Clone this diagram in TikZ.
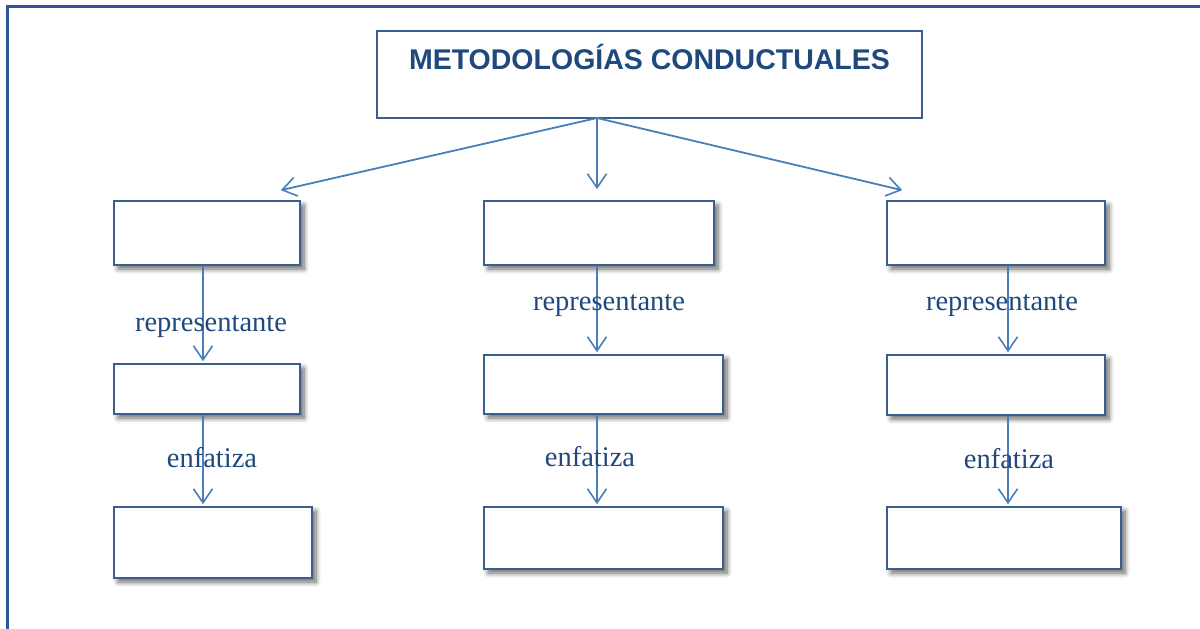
\documentclass[tikz,border=0pt]{standalone}
\usepackage{fontspec}
\setmainfont{Liberation Serif}
\setsansfont{Liberation Sans}
\usetikzlibrary{arrows.meta,shadows.blur}
\definecolor{marco}{HTML}{2F5597}
\definecolor{borde}{HTML}{3A5F8C}
\definecolor{flecha}{HTML}{4A7EBB}
\definecolor{texto}{HTML}{1F497D}
\tikzset{
	caja/.style={draw=borde,line width=1.6pt,fill=white,inner sep=0pt,
		blur shadow={shadow xshift=4pt,shadow yshift=-4pt,shadow blur radius=5pt,shadow blur steps=8,shadow opacity=60}},
	flechas/.style={draw=flecha,line width=1.8pt,-{Straight Barb[length=14pt,width=19pt,line width=1.6pt]}},
	etiqueta/.style={text=texto,font=\fontsize{28.5}{32}\selectfont}
}
\begin{document}
\begin{tikzpicture}[x=1pt,y=-1pt]
	\useasboundingbox (0,0) rectangle (1200,629);
	\draw[marco,line width=3pt] (7,629) -- (7,6) -- (1200,6);
	\node[draw=borde,line width=1.6pt,inner sep=0pt,anchor=north,minimum width=545pt,
		text height=39pt,text depth=48pt,text=texto,font=\sffamily\bfseries\fontsize{28.5}{32}\selectfont]
		(titulo) at (649.5,30) {METODOLOGÍAS CONDUCTUALES};
	\coordinate (raiz) at (597,118);
	\node[caja,minimum width=186pt,minimum height=64pt] (a1) at (207,233) {};
	\node[caja,minimum width=230pt,minimum height=64pt] (b1) at (599,233) {};
	\node[caja,minimum width=218pt,minimum height=64pt] (c1) at (996,233) {};
	\node[caja,minimum width=186pt,minimum height=50pt] (a2) at (207,389) {};
	\node[caja,minimum width=239pt,minimum height=59pt] (b2) at (603.5,384.5) {};
	\node[caja,minimum width=218pt,minimum height=60pt] (c2) at (996,385) {};
	\node[caja,minimum width=198pt,minimum height=71pt] (a3) at (213,542.5) {};
	\node[caja,minimum width=239pt,minimum height=62pt] (b3) at (603.5,538) {};
	\node[caja,minimum width=234pt,minimum height=62pt] (c3) at (1004,538) {};
	\draw[flechas] (raiz) -- ([xshift=-20pt,yshift=10pt]a1.north east);
	\draw[flechas] (raiz) -- ([xshift=-2pt,yshift=11pt]b1.north);
	\draw[flechas] (raiz) -- ([xshift=16pt,yshift=10pt]c1.north west);
	\draw[flechas] ([xshift=-4pt]a1.south) -- ([xshift=-4pt,yshift=2pt]a1.south |- a2.north)
		node[etiqueta,pos=.64,xshift=8pt] {representante};
	\draw[flechas] ([xshift=-4pt]a2.south) -- ([xshift=-4pt,yshift=2pt]a2.south |- a3.north)
		node[etiqueta,pos=.48,xshift=9pt] {enfatiza};
	\draw[flechas] ([xshift=-2pt]b1.south) -- ([xshift=-2pt,yshift=2pt]b1.south |- b2.north)
		node[etiqueta,pos=.46,xshift=12pt] {representante};
	\draw[flechas] ([xshift=-6.5pt]b2.south) -- ([xshift=-6.5pt,yshift=2pt]b2.south |- b3.north)
		node[etiqueta,pos=.47,xshift=-7pt] {enfatiza};
	\draw[flechas] ([xshift=12pt]c1.south) -- ([xshift=12pt,yshift=2pt]c1.south |- c2.north)
		node[etiqueta,pos=.46,xshift=-6pt] {representante};
	\draw[flechas] ([xshift=12pt]c2.south) -- ([xshift=12pt,yshift=2pt]c2.south |- c3.north)
		node[etiqueta,pos=.48,xshift=1pt] {enfatiza};
\end{tikzpicture}
\end{document}
